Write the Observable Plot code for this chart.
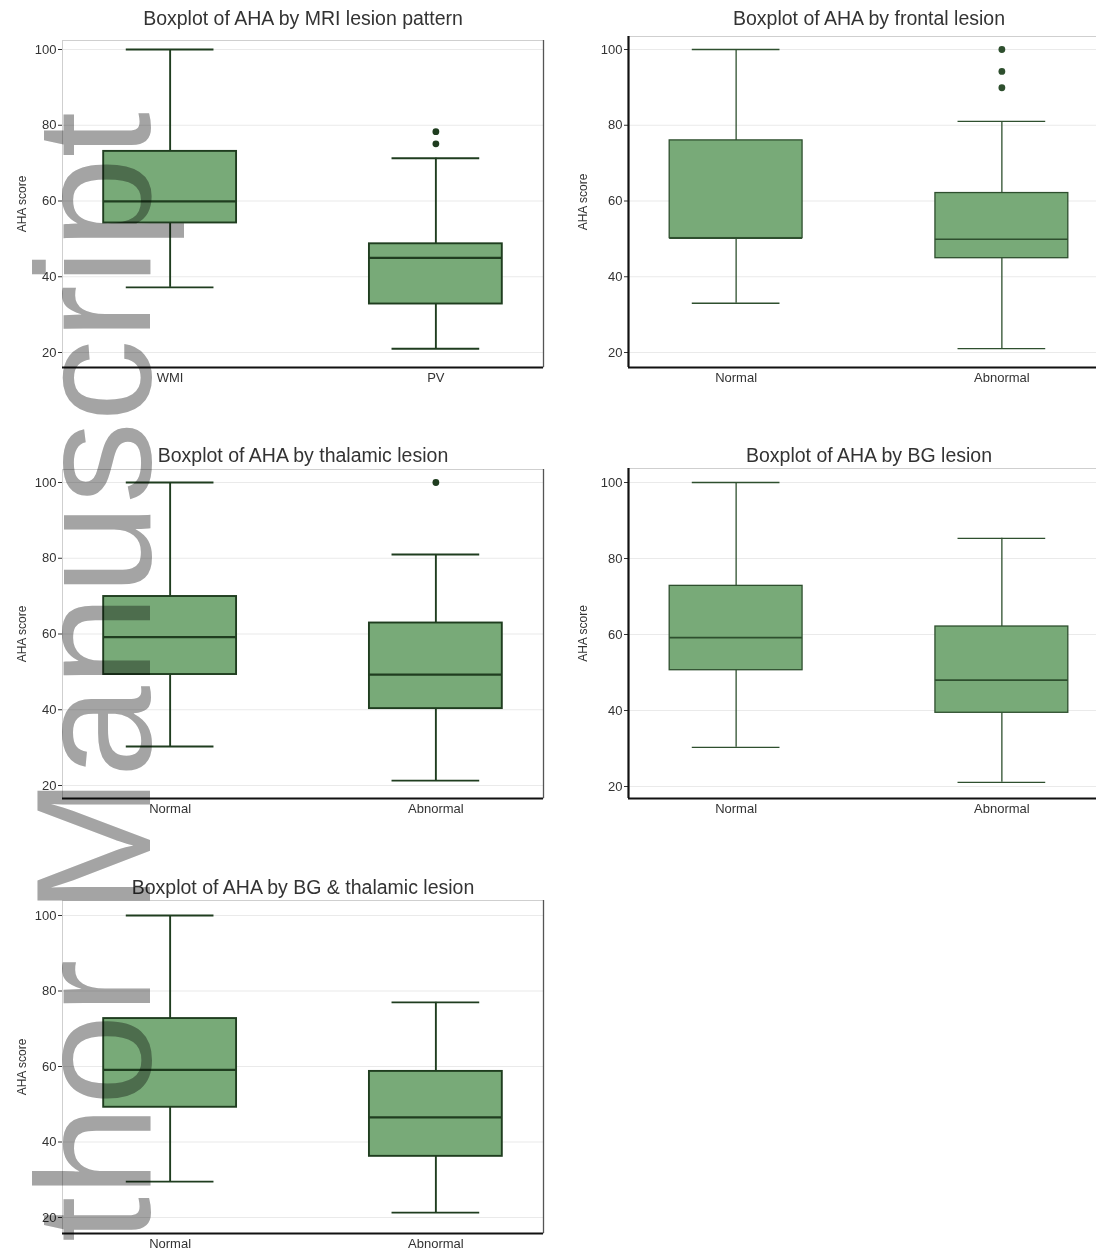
<!DOCTYPE html>
<html><head><meta charset="utf-8">
<script src="https://cdn.jsdelivr.net/npm/d3@7"></script>
<script src="https://cdn.jsdelivr.net/npm/@observablehq/plot@0.6"></script>
<style>
html,body{margin:0;padding:0;background:#fff;overflow:hidden;}
#page{position:relative;width:1096px;height:1253px;overflow:hidden;background:#fff;font-family:"Liberation Sans",Arial,sans-serif;}
.panel{position:absolute;}
.panel svg{max-width:none !important;}
#wm{position:absolute;left:0;top:0;mix-blend-mode:multiply;pointer-events:none;}
</style></head><body><div id="page"></div>
<script>
// ---------- data ----------
const titles = [
  "Boxplot of AHA by MRI lesion pattern",
  "Boxplot of AHA by frontal lesion",
  "Boxplot of AHA by thalamic lesion",
  "Boxplot of AHA by BG lesion",
  "Boxplot of AHA by BG & thalamic lesion"
];
const categories = [
  ["WMI", "PV"],
  ["Normal", "Abnormal"],
  ["Normal", "Abnormal"],
  ["Normal", "Abnormal"],
  ["Normal", "Abnormal"]
];
const lowerWhisker = [[37.2, 21.0], [33.0, 21.0], [30.3, 21.3], [30.3, 21.1], [29.5, 21.3]];
const q1Values     = [[54.2, 32.8], [50.2, 44.9], [49.3, 40.3], [50.6, 39.4], [49.2, 36.2]];
const medianValues = [[59.9, 45.0], [50.2, 49.9], [59.2, 49.3], [59.2, 48.0], [59.1, 46.5]];
const q3Values     = [[73.1, 48.7], [76.0, 62.1], [69.9, 62.9], [72.8, 62.1], [72.7, 58.7]];
const upperWhisker = [[100, 71.3], [100, 81.0], [100, 81.0], [100, 85.3], [100, 77.0]];
const outlierValues = [
  [[], [78.3, 75.1]],
  [[], [100, 94.2, 89.9]],
  [[], [100]],
  [[], []],
  [[], []]
];
const yTicks = [20, 40, 60, 80, 100];
const yLabel = "AHA score";
const watermark = "Author Manuscript";

// ---------- layout (pixels) ----------
const layout = [
  {left:0,   top:0,   plotLeft:62,  plotRight:543,  plotTop:40,  plotBottom:367,  p100:49,  p20:352,  titleY:18,  ylabX:22,  side:"left"},
  {left:548, top:0,   plotLeft:628, plotRight:1109, plotTop:36,  plotBottom:367,  p100:49,  p20:352,  titleY:18,  ylabX:583, side:"right"},
  {left:0,   top:430, plotLeft:62,  plotRight:543,  plotTop:469, plotBottom:798,  p100:482, p20:785,  titleY:455, ylabX:22,  side:"left"},
  {left:548, top:430, plotLeft:628, plotRight:1109, plotTop:468, plotBottom:798,  p100:482, p20:786,  titleY:455, ylabX:583, side:"right"},
  {left:0,   top:860, plotLeft:62,  plotRight:543,  plotTop:900, plotBottom:1233, p100:915, p20:1217, titleY:887, ylabX:22,  side:"left"}
];

const page = document.getElementById("page");
const FILL = "#78aa78";
const pad = 0.405, halfBox = 0.25, halfCap = 0.165;

titles.forEach((title, k) => {
  const L = layout[k];
  const cats = categories[k];
  const unit = (L.p20 - L.p100) / 80;
  const yMax = 100 + (L.p100 - L.plotTop) / unit;
  const yMin = 20 - (L.plotBottom - L.p20) / unit;
  const rows = cats.map((c, i) => ({
    i, cat: c,
    lo: lowerWhisker[k][i], q1: q1Values[k][i], med: medianValues[k][i],
    q3: q3Values[k][i], hi: upperWhisker[k][i]
  }));
  const outs = [];
  cats.forEach((c, i) => outlierValues[k][i].forEach(v => outs.push({i, v})));
  const isLeft = L.side === "left";
  const lineColor = isLeft ? "#1f3d1f" : "#2e4f2e";
  const lw = isLeft ? 1.9 : 1.3;

  const marginLeft = L.plotLeft - L.left;
  const marginTop = L.plotTop - L.top;
  const marginBottom = 20;
  const width = L.plotRight - L.left + 4;
  const height = L.plotBottom - L.top + marginBottom;

  const marks = [
    Plot.frame({stroke: "#cfcfcf", strokeWidth: 1}),
    Plot.ruleX(rows, {x: "i", y1: "q3", y2: "hi", stroke: lineColor, strokeWidth: lw}),
    Plot.ruleX(rows, {x: "i", y1: "lo", y2: "q1", stroke: lineColor, strokeWidth: lw}),
    Plot.ruleY(rows, {y: "hi", x1: d => d.i - halfCap, x2: d => d.i + halfCap, stroke: lineColor, strokeWidth: lw}),
    Plot.ruleY(rows, {y: "lo", x1: d => d.i - halfCap, x2: d => d.i + halfCap, stroke: lineColor, strokeWidth: lw}),
    Plot.rect(rows, {x1: d => d.i - halfBox, x2: d => d.i + halfBox, y1: "q1", y2: "q3", fill: FILL, stroke: lineColor, strokeWidth: lw}),
    Plot.ruleY(rows, {y: "med", x1: d => d.i - halfBox, x2: d => d.i + halfBox, stroke: lineColor, strokeWidth: lw + 0.4}),
    Plot.dot(outs, {x: "i", y: "v", r: 3.4, fill: lineColor, stroke: "none"}),
    Plot.ruleY([yMin], {stroke: "#111", strokeWidth: 2.2}),
    Plot.text([title], {frameAnchor: "top", dy: L.titleY - L.plotTop, fontSize: 19.5, fill: "#333", lineAnchor: "middle"}),
    Plot.text([yLabel], {frameAnchor: "left", dx: L.ylabX - L.plotLeft, rotate: -90, fontSize: 12, fill: "#333", textAnchor: "middle"})
  ];
  if (isLeft) {
    marks.push(Plot.ruleX([1 + pad], {stroke: "#555", strokeWidth: 1.3}));
  } else {
    marks.push(Plot.ruleX([-pad], {stroke: "#111", strokeWidth: 2.2}));
  }

  const chart = Plot.plot({
    width, height, marginLeft, marginTop, marginBottom, marginRight: width - (L.plotRight - L.left),
    style: {fontFamily: '"Liberation Sans", Arial, sans-serif', fontSize: "13px", color: "#333", background: "transparent", overflow: "visible", maxWidth: "none"},
    x: {domain: [-pad, 1 + pad], ticks: [0, 1], tickFormat: i => cats[i], tickSize: 0, tickPadding: 5, label: null},
    y: {domain: [yMin, yMax], ticks: yTicks, tickSize: 4, tickPadding: 2, grid: true, label: null},
    marks
  });
  chart.style.maxWidth = "none";
  chart.style.width = width + "px";
  const wrap = document.createElement("div");
  wrap.className = "panel";
  wrap.style.left = L.left + "px";
  wrap.style.top = L.top + "px";
  wrap.style.width = width + "px";
  wrap.appendChild(chart);
  page.appendChild(wrap);
});

// watermark overlay
const ns = "http://www.w3.org/2000/svg";
const wm = document.createElementNS(ns, "svg");
wm.setAttribute("id", "wm");
wm.setAttribute("width", 1096);
wm.setAttribute("height", 1253);
const t = document.createElementNS(ns, "text");
t.setAttribute("transform", "translate(150,112) rotate(-90)");
t.setAttribute("text-anchor", "end");
t.setAttribute("font-family", '"Liberation Sans", Arial, sans-serif');
t.setAttribute("font-size", "164");
t.setAttribute("fill", "#a4a4a4");
t.textContent = watermark;
wm.appendChild(t);
page.appendChild(wm);
</script></body></html>
